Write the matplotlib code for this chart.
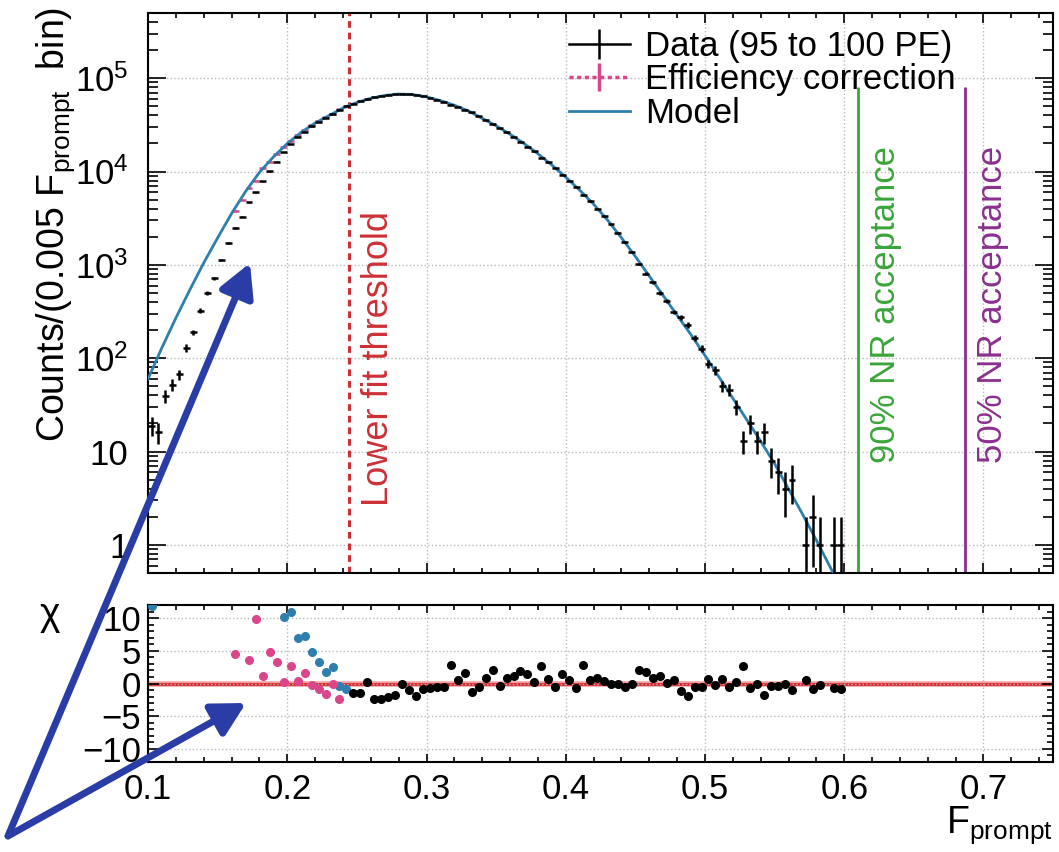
import numpy as np
import matplotlib
matplotlib.use("Agg")
import matplotlib.pyplot as plt
from matplotlib.ticker import MultipleLocator, FixedLocator, FixedFormatter, LogLocator, NullFormatter
from matplotlib.lines import Line2D
from matplotlib.patches import FancyArrowPatch

plt.rcParams['font.family'] = ['Liberation Sans', 'DejaVu Sans']
plt.rcParams['mathtext.fontset'] = 'custom'
plt.rcParams['mathtext.rm'] = 'Liberation Sans'
plt.rcParams['mathtext.it'] = 'Liberation Sans:italic'
plt.rcParams['mathtext.default'] = 'regular'

# histogram: 0.005 wide bins, first bin centre 0.1025
bin_width = 0.005
data_start = 0.1025
data_counts = [19, 16, 39, 52, 67, 129, 189, 324, 498, 721,
               1130, 1706, 2470, 3290, 4680, 5980, 7900, 10100, 12700, 16200,
               19800, 23470, 26660, 30410, 34060, 37670, 41180, 45800, 50880, 53440,
               56720, 59340, 62580, 64790, 66410, 67470, 67450, 67290, 66390, 64250,
               61830, 59000, 56040, 52150, 49420, 45900, 42930, 39000, 35310, 31980,
               29410, 26330, 23530, 20850, 18540, 16460, 14130, 12510, 10950, 9245,
               8000, 6900, 5600, 4840, 4000, 3330, 2715, 2185, 1760, 1370,
               1025, 805, 650, 500, 410, 314, 275, 227, 164, 127,
               87, 74, 50, 46, 30, 13, 20, 13, 16, 8,
               6, 4, 5, 0, 1, 2, 1, 0, 1, 1]

# efficiency corrected data
eff_start = 0.1625
eff_counts = [3790, 5000, 6660, 7930, 10840, 12630, 15260, 18360,
              20990, 24490, 27590, 31300, 34820, 38330, 41720, 46220]

# model curve, sampled every 0.01 from 0.10 to 0.60
model_f = [0.10, 0.11, 0.12, 0.13, 0.14, 0.15, 0.16, 0.17, 0.18, 0.19,
           0.20, 0.21, 0.22, 0.23, 0.24, 0.25, 0.26, 0.27, 0.28, 0.29,
           0.30, 0.31, 0.32, 0.33, 0.34, 0.35, 0.36, 0.37, 0.38, 0.39,
           0.40, 0.41, 0.42, 0.43, 0.44, 0.45, 0.46, 0.47, 0.48, 0.49,
           0.50, 0.51, 0.52, 0.53, 0.54, 0.55, 0.56, 0.57, 0.58, 0.59, 0.60]
model_counts = [60, 130, 270, 540, 1050, 1950, 3550, 6100, 9800, 14300,
                19950, 26300, 33100, 39800, 47900, 54950, 60950, 65300, 67600, 66800,
                63100, 57500, 51300, 44700, 37150, 30900, 25100, 19950, 15500, 11750,
                8710, 6310, 4470, 3020, 1950, 1230, 759, 468, 288, 178,
                107, 63, 37.2, 21.9, 12.9, 7.4, 3.98, 2.14, 1.12, 0.575, 0.295]

# residuals
chi_data_start = 0.2475
chi_data = [-1.5, -1.4, 0.2, -2.3, -2.3, -2.0, -1.7, -0.1, -1.0, -1.9,
            -0.9, -0.7, -0.5, -0.5, 2.8, 0.6, 1.6, -1.3, -0.5, 0.9,
            2.1, -0.4, 0.8, 1.2, 1.9, 1.4, 0.3, 2.7, 0.7, -0.5,
            1.5, 0.5, -0.7, 2.9, 0.5, 0.9, 0.4, -0.15, -0.15, -0.6,
            -0.05, 2.0, 1.8, 0.9, 1.2, 0.15, 0.6, -1.2, -1.9, -0.6,
            -0.5, 0.7, -0.3, 0.7, -0.6, 0.3, 2.7, -0.7, -0.15, -1.7,
            -0.4, -0.4, -0.15, -1.0, np.nan, 0.5, -0.8, -0.25, np.nan, -0.7, -0.9]
chi_eff_start = 0.1625
chi_eff = [4.5, np.nan, 3.6, 9.9, 1.2, 4.8, 3.3, 0.3,
           2.7, 0.4, 1.6, -0.2, -0.8, -1.6, -0.15, -2.4]
chi_raw_start = 0.1025
chi_raw = [11.9] + [np.nan] * 18 + [10.2, 11.0, 6.9, 7.2, 4.8, 3.3, 1.8, 2.5, -0.4, -0.8]

lower_threshold = 0.244
nr90 = 0.61
nr50 = 0.687

black = 'black'
pink = '#d9468a'
blue = '#2f7fae'
green = '#3aa53a'
purple = '#8a2f8e'
red = '#cc3035'


def centres(start, values):
    return start + bin_width * np.arange(len(values))


fig = plt.figure(figsize=(10.59, 8.52), dpi=100)
ax1 = fig.add_axes([0.1398, 0.3275, 0.8546, 0.6573])
ax2 = fig.add_axes([0.1398, 0.1056, 0.8546, 0.1843])

counts = np.array(data_counts, dtype=float)
counts[counts == 0] = np.nan
ax1.errorbar(centres(data_start, data_counts), counts, xerr=bin_width / 2,
             yerr=np.sqrt(counts), fmt='none', ecolor=black, elinewidth=1.8,
             capsize=0, zorder=4)
eff = np.array(eff_counts, dtype=float)
ax1.errorbar(centres(eff_start, eff_counts), eff, xerr=bin_width / 2,
             yerr=np.sqrt(eff), fmt='none', ecolor=pink, elinewidth=1.8,
             capsize=0, zorder=3)
ax1.plot(model_f, model_counts, color=blue, lw=2, zorder=3.5)

ax1.set_yscale('log')
ax1.set_xlim(0.1, 0.75)
ax1.set_ylim(0.5, 5e5)

ax1.axvline(lower_threshold, color=red, lw=2.2, ls=(0, (2.2, 1.6)), zorder=2)
ax1.vlines(nr90, 0.5, 8e4, color=green, lw=2, zorder=2)
ax1.vlines(nr50, 0.5, 8e4, color=purple, lw=2, zorder=2)

ax1.text(0.2652, 100, 'Lower fit threshold', rotation=90, color=red,
         ha='center', va='center', fontsize=26)
ax1.text(0.6295, 373, '90% NR acceptance', rotation=90, color=green,
         ha='center', va='center', fontsize=25)
ax1.text(0.7063, 373, '50% NR acceptance', rotation=90, color=purple,
         ha='center', va='center', fontsize=25)

ax1.yaxis.set_major_locator(FixedLocator([1, 10, 1e2, 1e3, 1e4, 1e5]))
ax1.yaxis.set_major_formatter(FixedFormatter(['1', '10', '$10^{2}$', '$10^{3}$',
                                              '$10^{4}$', '$10^{5}$']))
ax1.yaxis.set_minor_locator(LogLocator(base=10, subs=np.arange(2, 10), numticks=20))
ax1.yaxis.set_minor_formatter(NullFormatter())
ax1.xaxis.set_major_locator(MultipleLocator(0.1))
ax1.xaxis.set_minor_locator(MultipleLocator(0.02))
ax1.tick_params(which='both', direction='in', top=True, right=True, width=1.2,
                labelsize=25, labelbottom=False)
ax1.tick_params(axis='y', which='major', length=13, pad=14)
ax1.tick_params(axis='y', which='minor', length=7)
ax1.tick_params(axis='x', which='major', length=7)
ax1.tick_params(axis='x', which='minor', length=3.6)
ax1.grid(True, which='major', ls=':', color='#bbbbbb', lw=1)

ax1.set_ylabel(r'Counts/(0.005 F$_{prompt}$  bin)', fontsize=27, loc='top')
ax1.yaxis.set_label_coords(-0.079, 1.01)

h_data = Line2D([], [], color=black, lw=1.8, marker='|', ms=22, mew=1.8)
h_eff = Line2D([], [], color=pink, lw=2.5, ls=(0, (1.2, 1)), marker='|', ms=20, mew=2.5)
h_model = Line2D([], [], color=blue, lw=2)
ax1.legend([h_data, h_eff, h_model],
           ['Data (95 to 100 PE)', 'Efficiency correction', 'Model'],
           loc='upper left', bbox_to_anchor=(0.465, 0.97), frameon=False,
           fontsize=25, handlelength=1.75, handletextpad=0.45,
           labelspacing=0.02, borderpad=0, borderaxespad=0, numpoints=1)

# residual panel
ax2.axhline(0, color='#f0a0a0', lw=4, zorder=1)
ax2.axhline(0, color='#d8262b', lw=2, zorder=1.5)
ax2.plot(centres(chi_raw_start, chi_raw), chi_raw, 'o', color=blue, ms=5.5, zorder=3)
ax2.plot(centres(chi_eff_start, chi_eff), chi_eff, 'o', color=pink, ms=5.5, zorder=3)
ax2.plot(centres(chi_data_start, chi_data), chi_data, 'o', color=black, ms=5.5, zorder=3)

ax2.set_xlim(0.1, 0.75)
ax2.set_ylim(-12, 12)
ax2.xaxis.set_major_locator(MultipleLocator(0.1))
ax2.xaxis.set_minor_locator(MultipleLocator(0.02))
ax2.yaxis.set_major_locator(MultipleLocator(5))
ax2.yaxis.set_minor_locator(MultipleLocator(1))
ax2.tick_params(which='both', direction='in', top=True, right=True, width=1.2,
                labelsize=25)
ax2.tick_params(axis='y', which='major', length=8, pad=5)
ax2.tick_params(axis='y', which='minor', length=4.5)
ax2.tick_params(axis='x', which='major', length=6, pad=8)
ax2.tick_params(axis='x', which='minor', length=3.5)
ax2.grid(True, which='major', ls=':', color='#bbbbbb', lw=1)

ax2.set_xlabel(r'F$_{prompt}$', loc='right', fontsize=27)
ax2.xaxis.set_label_coords(1.0, -0.27)
fig.text(50 / 1059, 1 - 615 / 852, 'χ', fontsize=28, ha='center', va='center')

for ax in (ax1, ax2):
    for s in ax.spines.values():
        s.set_linewidth(1.5)

# blue pointer arrows
arrow_col = '#2a3ca6'
tail = (8 / 1059, 1 - 836 / 852)
for tip in [(250 / 1059, 1 - 263 / 852), (246 / 1059, 1 - 703 / 852)]:
    fig.add_artist(FancyArrowPatch(tail, tip, transform=fig.transFigure,
                                   arrowstyle='-|>,head_length=0.5,head_width=0.27',
                                   mutation_scale=40, lw=5, color=arrow_col,
                                   shrinkA=0, shrinkB=0, zorder=10))

fig.savefig('out.png', dpi=100)
